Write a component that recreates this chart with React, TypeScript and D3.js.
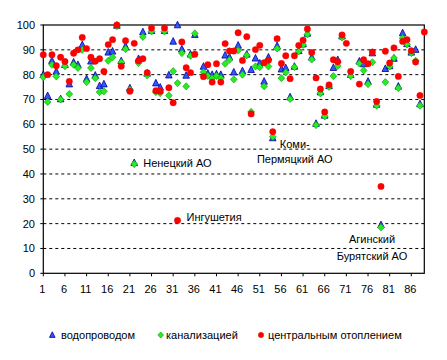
import React from "react";
import * as d3 from "d3";

const regions: number[] = d3.range(1, 90);
// водопроводом
const water: (number | null)[] = [
  80, 71.5, 85.6, 81.3, 70.2, 84, 76.2, 85, 84, 92,
  78.3, 85.4, 79.7, 75.5, 76.2, 89, 89.4, 99.8, 85.5, 91.4,
  74.6, 44.5, 86.4, 97.2, 80.5, 97.7, 76.6, 74.9, 97.7, 79.8,
  93.4, 100, 90.3, 79.7, 88.2, 96.1, null, 83.3, 80.5, 80,
  80.2, 80, 87.8, 87, 81, 91.8, 81.5, 88.2, 82, 86.6,
  84.6, 77.3, 87, 54.5, 91.6, 82.2, 82.7, 71, 83.3, 89.6,
  92.3, 96.6, 87, 60.3, 73, 63.6, 75.5, 82.8, 86, 95.5,
  null, 80, null, 85.4, 84.3, 77.3, 88.7, 68, 19.5, 82.4,
  83.5, 86.5, 75.3, 96.8, 92.4, 89, 90.1, 68.2, null,
];
// канализацией
const sewer: (number | null)[] = [
  79, 69, 84, 79.3, 70, 83.4, 72.2, 84, 82.7, 90,
  77, 82.7, 78.6, 73, 73.3, 85.6, 87, 99.5, 85, 90.3,
  74, 44, 84.7, 95.2, 79.7, 97.4, 73, 72.6, 97.4, 71.6,
  81.4, 76.6, 88.7, 75.3, 87.6, 96.6, null, 81, 79.5, 78.5,
  79.5, 78.6, 84.4, 86, 78.1, 89.8, 80, 87.8, 65, 83.3,
  83, 75.3, 83.3, 55, 90.5, 78.6, 80.9, 70.2, 83, 89.4,
  92, 96.2, 86.1, 59.7, 72.5, 63.2, 75.1, 79.4, 83.5, 95,
  null, 79.4, null, 84.5, 81.7, 76.2, 85, 67.5, 18.5, 77,
  83.3, 86.7, 74.6, 94.7, 92.2, 88.7, 85.6, 67.5, null,
];
// центральным отоплением
const heating: (number | null)[] = [
  88, 80, 88, 83.6, 87, 85.3, 77.3, 88.6, 90, 95,
  90.5, 87, 85.4, 86.4, 81.3, 92.1, 94.1, 100, 83.4, 93.7,
  73.3, 92.6, 85.6, 86.4, 80.8, 98.8, 73.5, 73.3, 98.8, 74.7,
  68.7, 21.3, 93.2, 82.8, 80.8, 88.2, null, 79.2, 84, 77,
  84.4, 77, 92.5, 89.5, 89.5, 96.9, 85.7, 95.3, 64.2, 90.1,
  91.8, 84.8, 85.8, 57, 94.5, 84.5, 87.6, 78.4, 87.6, 91.8,
  93.9, 98.4, 88.9, 78.7, 74.2, 65, 75.9, 86, 85.2, 96,
  92.6, 81.3, null, 76.2, 86, 84.4, 89.1, 69.2, 35, 89.4,
  84.7, 90.8, 79.3, 93.4, 94.1, 89.6, 85.1, 71.6, 97.2,
];

const yTicks: number[] = [0, 10, 20, 30, 40, 50, 60, 70, 80, 90, 100];
const xTicks: number[] = [1, 6, 11, 16, 21, 26, 31, 36, 41, 46, 51, 56, 61, 66, 71, 76, 81, 86];
const seriesNames: string[] = ["водопроводом", "канализацией", "центральным отоплением"];

const annNenets = { n: 22, v: 44, lines: ["Ненецкий АО"] };
const annIngush = { n: 32, v: 21.3, lines: ["Ингушетия"] };
const annKomi = { n: 54, v: 57, lines: ["Коми-", "Пермяцкий АО"] };
const annAgin = { n: 79, v: 18.5, lines: ["Агинский", "Бурятский АО"] };

const FONT = "'Liberation Sans', Arial, sans-serif";

const Tri = ({ cx, cy, s = 1 }: { cx: number; cy: number; s?: number }) => (
  <path
    d={`M${cx},${cy - 3.8 * s}L${cx + 3.3 * s},${cy + 2.8 * s}L${cx - 3.3 * s},${cy + 2.8 * s}Z`}
    fill="#3355ff"
    stroke="#000099"
    strokeWidth={0.8}
  />
);
const Dia = ({ cx, cy, s = 1 }: { cx: number; cy: number; s?: number }) => (
  <path
    d={`M${cx},${cy - 3.6 * s}L${cx + 3.4 * s},${cy}L${cx},${cy + 3.6 * s}L${cx - 3.4 * s},${cy}Z`}
    fill="#22ee22"
    stroke="#119911"
    strokeWidth={0.6}
  />
);
const Dot = ({ cx, cy, s = 1 }: { cx: number; cy: number; s?: number }) => (
  <circle cx={cx} cy={cy} r={3.2 * s} fill="#ff0000" stroke="#ee0000" strokeWidth={0.4} />
);

export default function App() {
  const W = 447,
    H = 360;
  const x = d3.scaleLinear().domain([1, 89]).range([43.3, 424.3]);
  const y = d3.scaleLinear().domain([0, 100]).range([273.3, 25]);
  const [x0, x1] = x.range();
  const [yb, yt] = y.range();

  const pts = (arr: (number | null)[]) =>
    regions
      .map((n, i) => ({ n, v: arr[i] }))
      .filter((d) => d.v !== null) as { n: number; v: number }[];

  const txt = { fontFamily: FONT, fontSize: 11, fill: "#000" } as const;

  return (
    <svg
      width={W}
      height={H}
      style={{ position: "absolute", left: 0, top: 0, background: "#fff" }}
    >
      <rect width={W} height={H} fill="#fff" />
      {/* gridlines */}
      {yTicks
        .filter((t) => t > 0 && t < 100)
        .map((t) => (
          <line
            key={t}
            x1={x0}
            x2={x1}
            y1={y(t)}
            y2={y(t)}
            stroke="#000"
            strokeWidth={1}
            strokeDasharray="3,3"
          />
        ))}
      {/* frame */}
      <rect x={x0} y={yt} width={x1 - x0} height={yb - yt} fill="none" stroke="#000" strokeWidth={1.2} />
      {/* y ticks */}
      {yTicks.map((t) => (
        <g key={t}>
          <line x1={x0 - 3} x2={x0} y1={y(t)} y2={y(t)} stroke="#000" />
          <text x={35} y={y(t)} dy="0.36em" textAnchor="end" {...txt}>
            {t}
          </text>
        </g>
      ))}
      {/* x ticks */}
      {xTicks.map((t) => (
        <g key={t}>
          <line x1={x(t)} x2={x(t)} y1={yb} y2={yb + 3} stroke="#000" />
          <text x={x(t) - 1} y={yb + 20} textAnchor="middle" {...txt}>
            {t}
          </text>
        </g>
      ))}
      {/* series */}
      {pts(water).map((d) => (
        <Tri key={"w" + d.n} cx={x(d.n)} cy={y(d.v)} />
      ))}
      {pts(sewer).map((d) => (
        <Dia key={"s" + d.n} cx={x(d.n)} cy={y(d.v)} />
      ))}
      {pts(heating).map((d) => (
        <Dot key={"h" + d.n} cx={x(d.n)} cy={y(d.v)} />
      ))}
      {/* annotations */}
      <text x={x(annNenets.n) + 9} y={y(annNenets.v) - 1} dy="0.36em" {...txt}>
        {annNenets.lines[0]}
      </text>
      <text x={x(annIngush.n) + 9} y={y(annIngush.v) - 3} dy="0.36em" {...txt}>
        {annIngush.lines[0]}
      </text>
      {annKomi.lines.map((l, i) => (
        <text
          key={l}
          x={x(annKomi.n) + 22}
          y={y(annKomi.v) + 12 + i * 15.5}
          dy="0.36em"
          textAnchor="middle"
          {...txt}
        >
          {l}
        </text>
      ))}
      {annAgin.lines.map((l, i) => (
        <text
          key={l}
          x={x(annAgin.n) - 9}
          y={y(annAgin.v) + 12 + i * 16.4}
          dy="0.36em"
          textAnchor="middle"
          {...txt}
        >
          {l}
        </text>
      ))}
      {/* legend */}
      <g>
        <Tri cx={52.3} cy={335} s={0.85} />
        <text x={61} y={335} dy="0.36em" {...txt}>
          {seriesNames[0]}
        </text>
        <Dia cx={160.7} cy={335} s={0.85} />
        <text x={166} y={335} dy="0.36em" {...txt}>
          {seriesNames[1]}
        </text>
        <Dot cx={261} cy={335} s={0.85} />
        <text x={268} y={335} dy="0.36em" {...txt}>
          {seriesNames[2]}
        </text>
      </g>
    </svg>
  );
}
